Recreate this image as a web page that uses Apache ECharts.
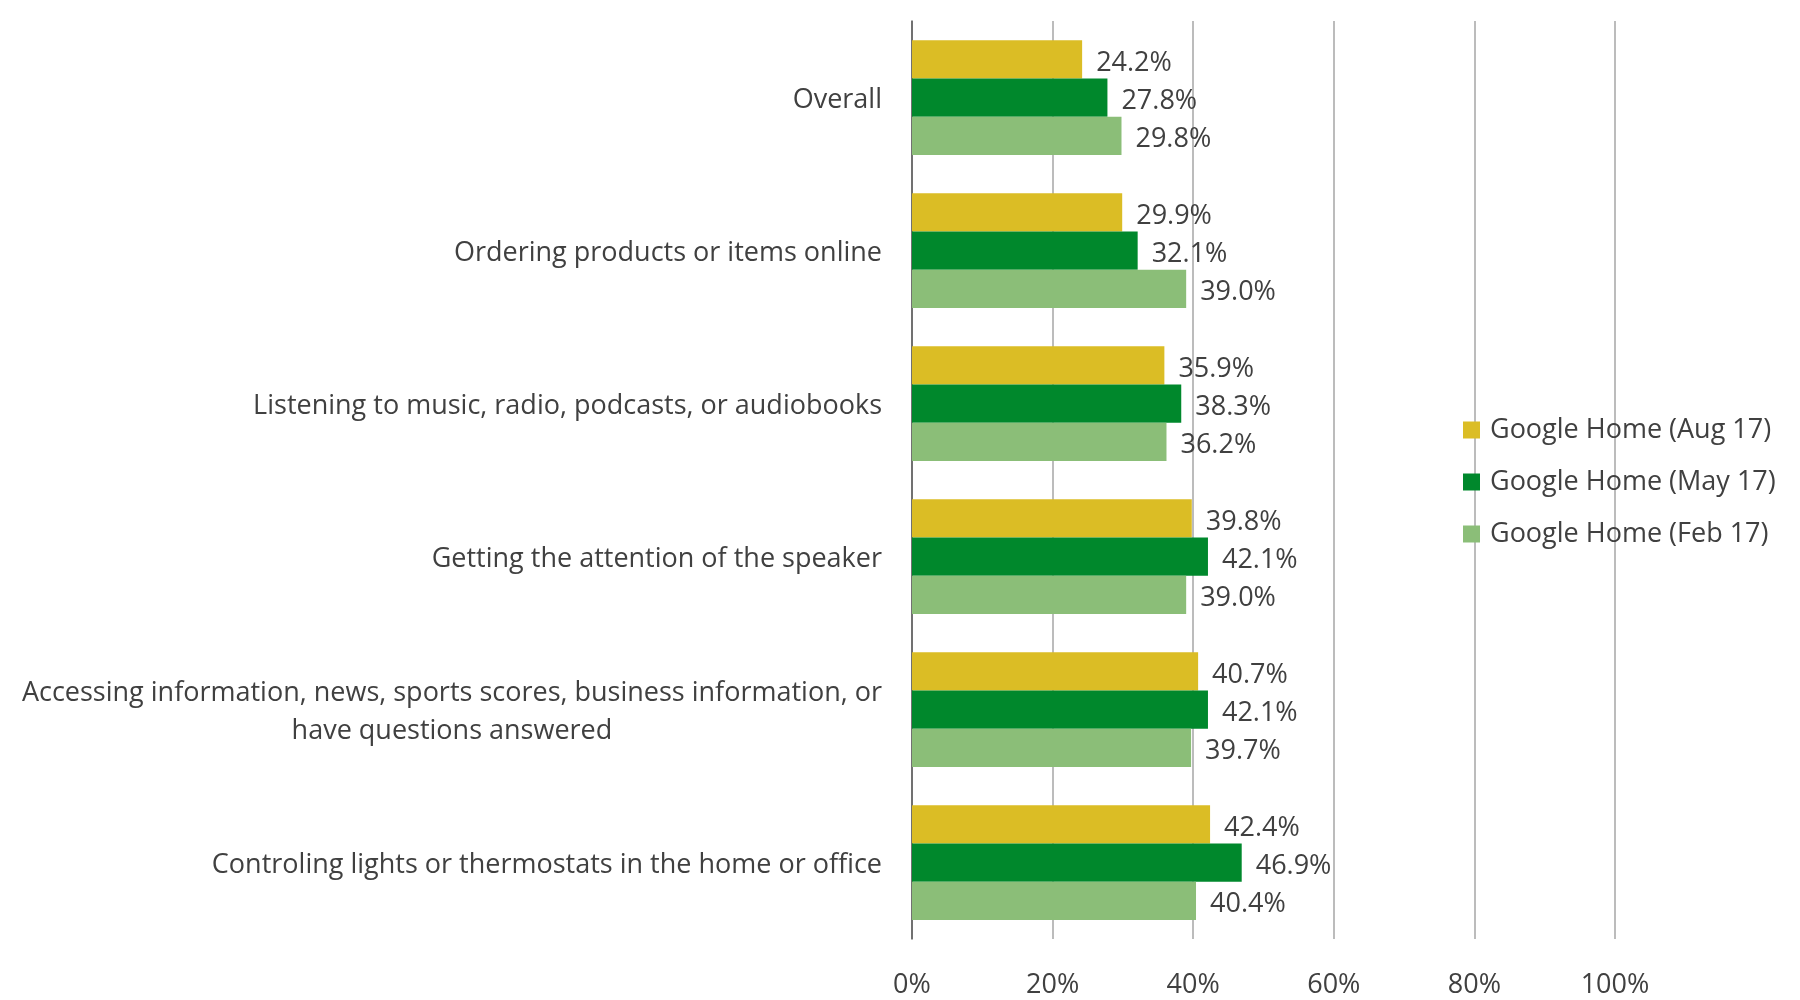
<!DOCTYPE html>
<html>
<head>
<meta charset="utf-8">
<script src="https://cdn.jsdelivr.net/npm/echarts@6/dist/echarts.min.js"></script>
<style>
  html, body { margin: 0; padding: 0; background: #ffffff; }
  #chart { width: 1800px; height: 1000px; }
</style>
</head>
<body>
<div id="chart"></div>
<script>
// Categories, top to bottom
const categories = [
  'Overall',
  'Ordering products or items online',
  'Listening to music, radio, podcasts, or audiobooks',
  'Getting the attention of the speaker',
  'Accessing information, news, sports scores, business information, or\nhave questions answered',
  'Controling lights or thermostats in the home or office'
];

const seriesNames = ['Google Home (Aug 17)', 'Google Home (May 17)', 'Google Home (Feb 17)'];

// Share of users (%) per survey wave
const aug17 = [24.2, 29.9, 35.9, 39.8, 40.7, 42.4];
const may17 = [27.8, 32.1, 38.3, 42.1, 42.1, 46.9];
const feb17 = [29.8, 39.0, 36.2, 39.0, 39.7, 40.4];

const xTicks = [0, 20, 40, 60, 80, 100];

const colors = ['#DBBD25', '#00882C', '#8BBE78'];
const textColor = '#404040';
const font = "'Open Sans', 'Noto Sans', sans-serif";
const fontSize = 27;

const chart = echarts.init(document.getElementById('chart'));

function barSeries(name, data, color) {
  return {
    name: name,
    type: 'bar',
    data: data,
    barGap: '0%',
    barCategoryGap: '25%',
    itemStyle: { color: color },
    label: {
      show: true,
      position: 'right',
      distance: 14,
      color: textColor,
      fontFamily: font,
      fontSize: fontSize,
      offset: [0, 4],
      formatter: p => p.value.toFixed(1) + '%'
    }
  };
}

chart.setOption({
  animation: false,
  backgroundColor: '#ffffff',
  color: colors,
  grid: { left: 912, right: 185, top: 21, bottom: 61, containLabel: false },
  legend: {
    orient: 'vertical',
    left: 1463,
    top: 416,
    padding: 0,
    icon: 'rect',
    itemWidth: 17,
    itemHeight: 17,
    itemGap: 24,
    data: seriesNames,
    textStyle: {
      color: textColor,
      fontFamily: font,
      fontSize: fontSize,
      lineHeight: 28,
      padding: [0, 0, 0, 5]
    }
  },
  xAxis: {
    type: 'value',
    min: xTicks[0],
    max: xTicks[xTicks.length - 1],
    interval: xTicks[1] - xTicks[0],
    axisLine: { show: false },
    axisTick: { show: false },
    splitLine: { show: true, lineStyle: { color: '#A6A6A6', width: 1.5 } },
    axisLabel: {
      margin: 33,
      color: textColor,
      fontFamily: font,
      fontSize: fontSize,
      formatter: '{value}%'
    }
  },
  yAxis: {
    type: 'category',
    data: categories,
    inverse: true,
    axisTick: { show: false },
    axisLine: { show: true, lineStyle: { color: '#595959', width: 1.5 } },
    axisLabel: {
      margin: 30,
      color: textColor,
      fontFamily: font,
      fontSize: fontSize,
      lineHeight: 38,
      formatter: v => v.split('\n').map(s => '{c|' + s + '}').join('\n'),
      rich: {
        c: { align: 'center', color: textColor, fontFamily: font, fontSize: fontSize, lineHeight: 38, padding: [5, 0, 0, 0] }
      }
    }
  },
  series: [
    barSeries(seriesNames[0], aug17, colors[0]),
    barSeries(seriesNames[1], may17, colors[1]),
    barSeries(seriesNames[2], feb17, colors[2])
  ]
});
</script>
</body>
</html>
